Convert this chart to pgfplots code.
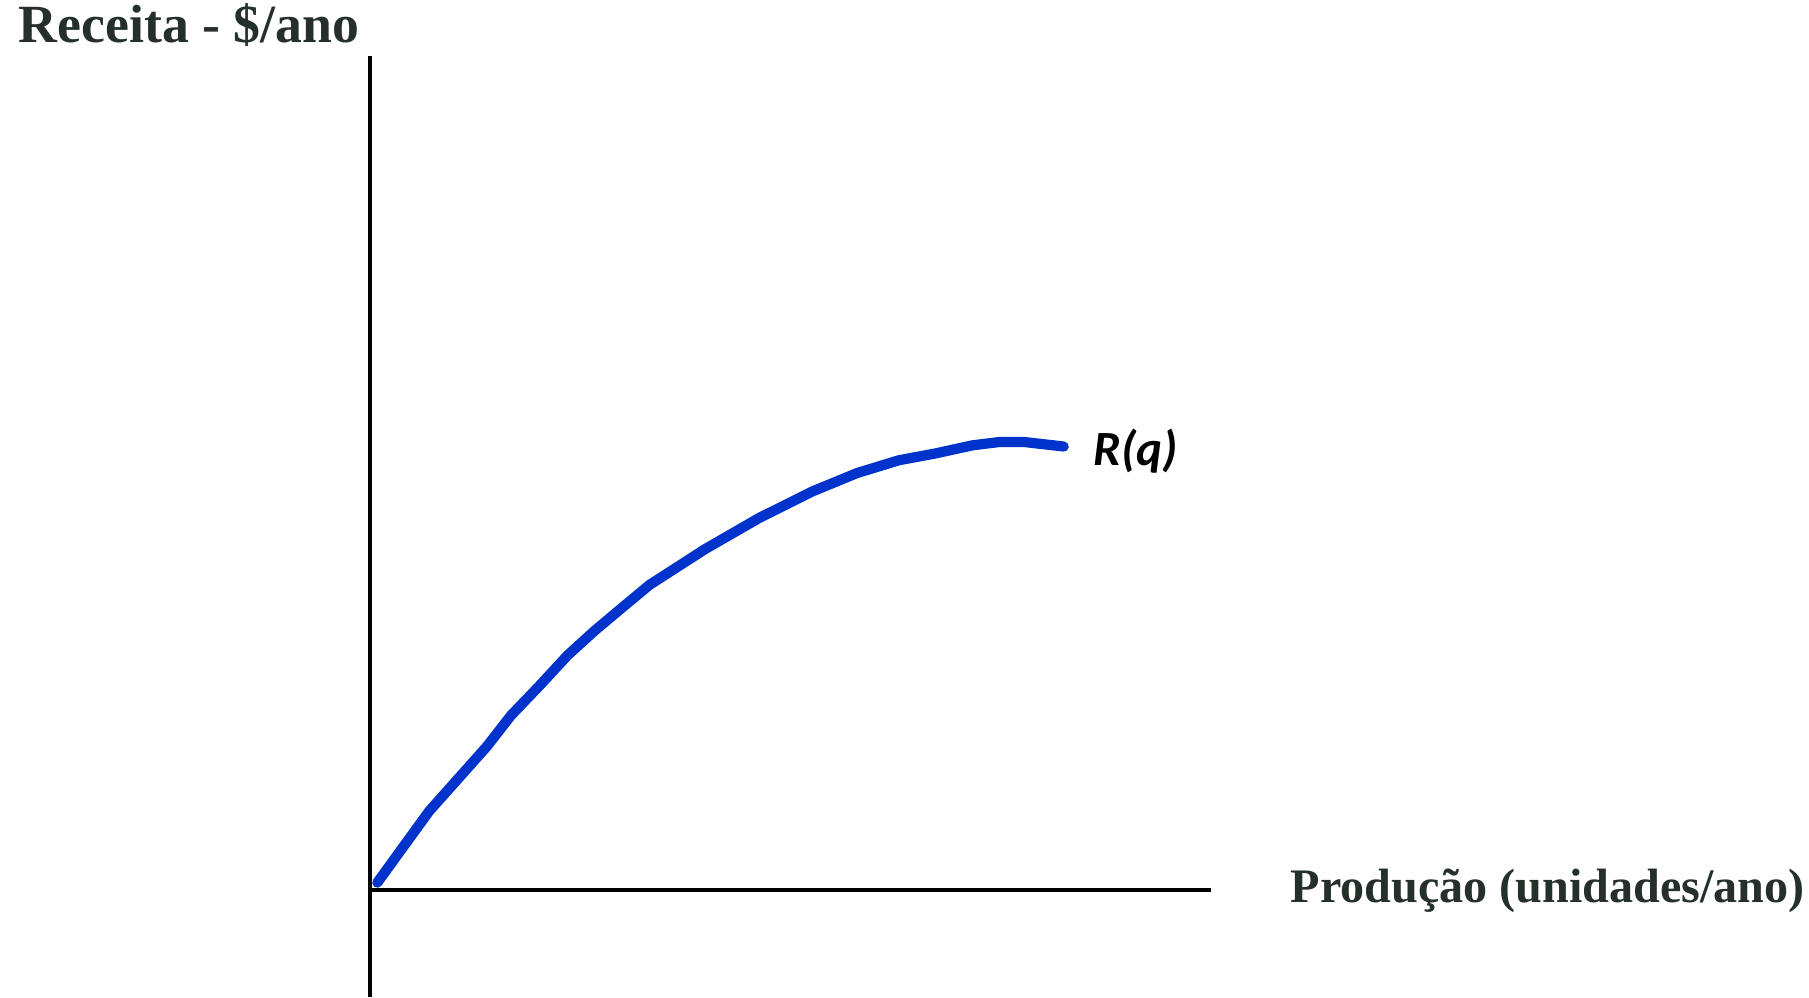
\documentclass[border=0pt]{standalone}
\usepackage{pgfplots}
\pgfplotsset{compat=1.18}
\usepackage{fontspec}
\setmainfont{Liberation Serif}
\newfontfamily\calib{Carlito}
\definecolor{txt}{HTML}{25302A}
\definecolor{curve}{HTML}{0033CC}

\begin{document}
\begin{tikzpicture}
\begin{axis}[
    width=18.09cm, height=9.97cm,
    scale only axis,
    xmin=-370, xmax=1439,
    ymin=-107, ymax=890,
    hide axis,
    clip=false,
]
% axes drawn by hand: vertical runs below the horizontal one
\draw[black, line width=1.3pt] (axis cs:0,-107) -- (axis cs:0,834);
\draw[black, line width=1.3pt] (axis cs:0,0) -- (axis cs:841,0);

% revenue curve R(q)
\addplot[curve, line width=2.9pt, line cap=round, line join=round] coordinates {
    (7.3,7.4) (59.2,78.9) (116.9,143.6) (141.1,174.7) (169.9,204.7)
    (197.6,234.7) (224.2,258.9) (253,283.1) (279.5,305.1) (334.9,340.8)
    (389.1,372) (442.2,398.5) (487.2,417) (528.7,429.7) (565.6,436.6)
    (602.6,444.7) (630.3,448.1) (653.3,448.1) (693.7,443.5)
};

\node[anchor=base west, inner sep=0pt, text=txt, font=\fontsize{15.3}{17}\selectfont\bfseries]
    at (axis cs:-352,847) {Receita - \$/ano};
\node[anchor=base west, inner sep=0pt, text=txt, font=\fontsize{13.7}{16}\selectfont\bfseries]
    at (axis cs:920,-12) {Produção (unidades/ano)};
\node[anchor=base west, inner sep=0pt, font=\calib\fontsize{14}{16}\selectfont\bfseries\itshape]
    at (axis cs:723,425) {R(q)};
\end{axis}
% the picture is exactly the axis frame
\pgfresetboundingbox
\path (current axis.south west) rectangle (current axis.north east);
\end{tikzpicture}
\end{document}
